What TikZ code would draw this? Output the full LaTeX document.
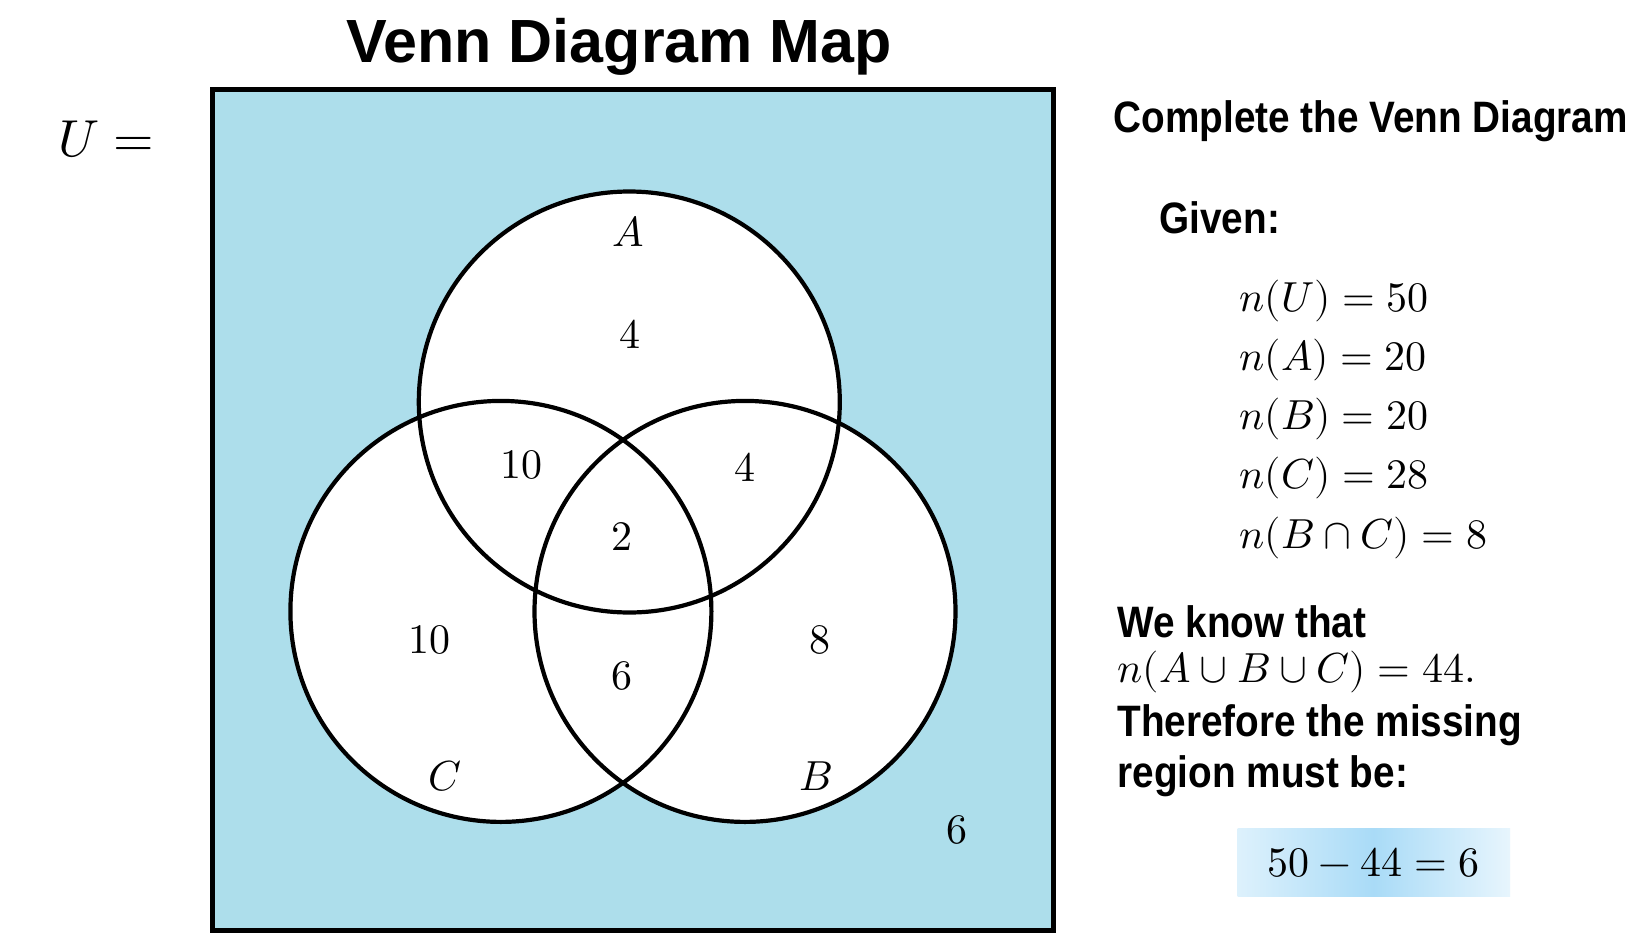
\documentclass[tikz,border=0pt]{standalone}
\usepackage{fontspec}
\usepackage{unicode-math}
\setmathfont{Latin Modern Math}
\newfontfamily\headfont[FakeStretch=0.88]{Liberation Sans}
\newfontfamily\titlefont{Liberation Sans}
\usetikzlibrary{positioning}
\definecolor{PowderBlue}{HTML}{ADDEEB}
\definecolor{BoxEdge}{HTML}{DDF1FC}
\definecolor{BoxMid}{HTML}{A9DBF7}

\begin{document}
\begin{tikzpicture}[x=1pt, y=-1pt,
  universe/.style={draw=black, line width=5pt, fill=PowderBlue, minimum width=841pt, minimum height=841pt, inner sep=0pt},
  setfill/.style={circle, fill=white, minimum size=421pt, inner sep=0pt},
  ring/.style={draw=black, line width=4.2pt},
  region/.style={font=\fontsize{42}{50}\selectfont},
  heading/.style={font=\headfont\bfseries\fontsize{44}{52}\selectfont, anchor=west},
  eqn/.style={font=\fontsize{42}{50}\selectfont, anchor=west}]
\fill[white] (0,0) rectangle (1650,948);
\useasboundingbox (0,0) rectangle (1650,948);
\node[font=\titlefont\bfseries\fontsize{61}{70}\selectfont] (title) at (619,47) {Venn Diagram Map};
\node[font=\fontsize{52}{60}\selectfont] (ulabel) at (106,139) {$U=$};
\node[universe] (U) at (633,509.8) {};
% the three sets
\node[setfill] (A) at (629.3,402) {};
\node[setfill] (C) at (500.9,611.4) {};
\node[setfill] (B) at (745,611.4) {};
\foreach \s in {A,B,C}
  \draw[ring] (\s.center) circle[radius=210.5pt];
% set names and region counts
\node[region] (nameA) at (628.2,231.5) {$A$};
\node[region] (nameC) at (445.1,776.6) {$C$};
\node[region] (nameB) at (815.5,776.6) {$B$};
\node[region] (onlyA)  at (630.3,334.6) {$4$};
\node[region] (AC)     at (521.9,465.1) {$10$};
\node[region] (AB)     at (745,467.2)   {$4$};
\node[region] (ABC)    at (621.9,536.7) {$2$};
\node[region] (onlyC)  at (429.3,639.8) {$10$};
\node[region] (BC)     at (621.9,675.6) {$6$};
\node[region] (onlyB)  at (819.7,639.8) {$8$};
\node[region] (none)   at (956.5,830.3) {$6$};
% working on the right
\node[heading] (task)  at (1110,121) {Complete the Venn Diagram};
\node[heading] (given) at (1156,218) {Given:};
\node[eqn] (nU)  at (1236,301)   {$n(U)=50$};
\node[eqn] (nA)  at (1236,359.9) {$n(A)=20$};
\node[eqn] (nB)  at (1236,418.8) {$n(B)=20$};
\node[eqn] (nC)  at (1236,477.7) {$n(C)=28$};
\node[eqn] (nBC) at (1236,537.7) {$n(B\cap C)=8$};
\node[heading] (know)  at (1114,622)   {We know that};
\node[eqn]     (union) at (1114,672.4) {$n(A\cup B\cup C)=44.$};
\node[heading] (there) at (1114,725)   {Therefore the missing};
\node[heading] (reg)   at (1114,776.6) {region must be:};
\node[font=\fontsize{42}{50}\selectfont, minimum width=272.5pt, minimum height=68.5pt,
  left color=BoxEdge, right color=BoxEdge!70!white, middle color=BoxMid] (result) at (1373.8,862.3) {$50-44=6$};
\end{tikzpicture}
\end{document}
